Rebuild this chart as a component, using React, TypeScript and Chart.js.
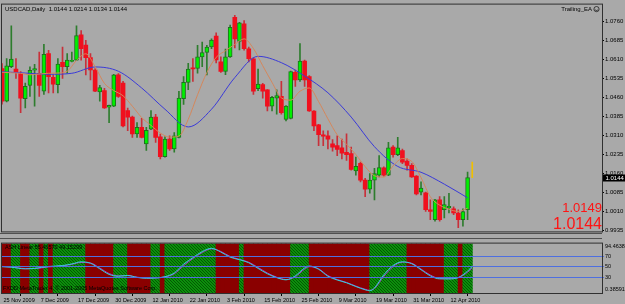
import { useEffect, useRef } from 'react';
import { Chart, registerables } from 'chart.js';

Chart.register(...registerables);

// ---------------- data ----------------
const symbolName = 'USDCAD,Daily';
const headerQuote = ['1.0144', '1.0214', '1.0134', '1.0144'];
const expertName = 'Trailing_EA';

const dateTickLabels = [
  '25 Nov 2009', '7 Dec 2009', '17 Dec 2009', '30 Dec 2009', '12 Jan 2010', '22 Jan 2010',
  '3 Feb 2010', '15 Feb 2010', '25 Feb 2010', '9 Mar 2010', '19 Mar 2010', '31 Mar 2010', '12 Apr 2010',
];
const barsPerDateTick = 8;

const openPrices = [
  1.0575, 1.0446, 1.0582, 1.0573, 1.0556, 1.0456, 1.0508, 1.0568, 1.0556, 1.0485,
  1.0634, 1.0540, 1.0511, 1.0599, 1.0582, 1.0603, 1.0608, 1.0708, 1.0667, 1.0618,
  1.0569, 1.0482, 1.0488, 1.0422, 1.0426, 1.0550, 1.0517, 1.0409, 1.0383, 1.0316,
  1.0342, 1.0277, 1.0335, 1.0383, 1.0305, 1.0227, 1.0296, 1.0257, 1.0303, 1.0456,
  1.0520, 1.0578, 1.0575, 1.0621, 1.0638, 1.0660, 1.0703, 1.0601, 1.0563, 1.0621,
  1.0777, 1.0682, 1.0751, 1.0653, 1.0613, 1.0495, 1.0511, 1.0491, 1.0426, 1.0458,
  1.0465, 1.0374, 1.0378, 1.0560, 1.0530, 1.0604, 1.0543, 1.0407, 1.0352, 1.0313,
  1.0309, 1.0277, 1.0270, 1.0261, 1.0244, 1.0239, 1.0170, 1.0200, 1.0134, 1.0098,
  1.0134, 1.0153, 1.0182, 1.0153, 1.0264, 1.0234, 1.0251, 1.0209, 1.0192, 1.0150,
  1.0086, 1.0084, 1.0017, 0.9978, 1.0056, 1.0017, 1.0024, 1.0020, 1.0004, 0.9978,
  1.0017,
];
const highPrices = [
  1.0594, 1.0614, 1.0744, 1.0614, 1.0563, 1.0517, 1.0582, 1.0591, 1.0640, 1.0670,
  1.0647, 1.0550, 1.0614, 1.0660, 1.0634, 1.0640, 1.0744, 1.0725, 1.0686, 1.0634,
  1.0575, 1.0508, 1.0497, 1.0430, 1.0552, 1.0555, 1.0524, 1.0419, 1.0387, 1.0361,
  1.0378, 1.0342, 1.0409, 1.0394, 1.0316, 1.0305, 1.0309, 1.0322, 1.0485, 1.0543,
  1.0595, 1.0614, 1.0666, 1.0679, 1.0666, 1.0692, 1.0716, 1.0621, 1.0652, 1.0746,
  1.0785, 1.0757, 1.0764, 1.0660, 1.0617, 1.0573, 1.0516, 1.0492, 1.0465, 1.0491,
  1.0524, 1.0428, 1.0565, 1.0569, 1.0673, 1.0608, 1.0547, 1.0409, 1.0354, 1.0329,
  1.0329, 1.0294, 1.0309, 1.0296, 1.0317, 1.0264, 1.0225, 1.0205, 1.0141, 1.0160,
  1.0180, 1.0231, 1.0186, 1.0283, 1.0270, 1.0303, 1.0257, 1.0218, 1.0199, 1.0152,
  1.0127, 1.0087, 1.0056, 1.0058, 1.0069, 1.0069, 1.0082, 1.0028, 1.0017, 1.0020,
  1.0166,
];
const lowPrices = [
  1.0434, 1.0443, 1.0578, 1.0536, 1.0400, 1.0419, 1.0465, 1.0426, 1.0465, 1.0473,
  1.0478, 1.0478, 1.0478, 1.0536, 1.0556, 1.0601, 1.0606, 1.0608, 1.0550, 1.0530,
  1.0483, 1.0446, 1.0417, 1.0361, 1.0424, 1.0461, 1.0344, 1.0329, 1.0303, 1.0303,
  1.0301, 1.0251, 1.0333, 1.0283, 1.0218, 1.0225, 1.0251, 1.0244, 1.0301, 1.0433,
  1.0491, 1.0524, 1.0556, 1.0582, 1.0550, 1.0653, 1.0597, 1.0559, 1.0551, 1.0619,
  1.0656, 1.0648, 1.0647, 1.0601, 1.0473, 1.0487, 1.0458, 1.0407, 1.0407, 1.0394,
  1.0394, 1.0368, 1.0376, 1.0504, 1.0524, 1.0504, 1.0405, 1.0329, 1.0270, 1.0270,
  1.0257, 1.0248, 1.0231, 1.0218, 1.0212, 1.0173, 1.0153, 1.0127, 1.0069, 1.0082,
  1.0056, 1.0147, 1.0150, 1.0151, 1.0225, 1.0231, 1.0199, 1.0173, 1.0145, 1.0075,
  1.0075, 1.0010, 0.9978, 0.9972, 0.9972, 0.9985, 1.0004, 0.9997, 0.9946, 0.9952,
  0.9978,
];
const closePrices = [
  1.0446, 1.0585, 1.0612, 1.0560, 1.0458, 1.0504, 1.0568, 1.0575, 1.0508, 1.0631,
  1.0543, 1.0513, 1.0592, 1.0582, 1.0608, 1.0607, 1.0705, 1.0653, 1.0618, 1.0569,
  1.0485, 1.0500, 1.0419, 1.0429, 1.0550, 1.0465, 1.0348, 1.0383, 1.0316, 1.0342,
  1.0303, 1.0331, 1.0383, 1.0303, 1.0227, 1.0296, 1.0257, 1.0309, 1.0458, 1.0520,
  1.0573, 1.0573, 1.0621, 1.0638, 1.0660, 1.0687, 1.0609, 1.0563, 1.0621, 1.0738,
  1.0692, 1.0755, 1.0653, 1.0614, 1.0485, 1.0513, 1.0485, 1.0426, 1.0461, 1.0468,
  1.0400, 1.0426, 1.0563, 1.0530, 1.0604, 1.0530, 1.0407, 1.0348, 1.0313, 1.0308,
  1.0296, 1.0264, 1.0255, 1.0240, 1.0234, 1.0176, 1.0188, 1.0134, 1.0098, 1.0134,
  1.0160, 1.0183, 1.0153, 1.0261, 1.0234, 1.0261, 1.0205, 1.0192, 1.0147, 1.0079,
  1.0102, 1.0017, 1.0010, 1.0056, 0.9978, 1.0037, 1.0030, 1.0004, 0.9978, 1.0010,
  1.0144,
];

const slowMaBars = [0, 5, 10, 15, 20, 25, 30, 35, 40, 45, 50, 55, 60, 65, 70, 75, 80, 85, 90, 95, 100];
const slowMaValues = [
  1.0562, 1.0557, 1.0552, 1.0556, 1.0581, 1.0564, 1.0498, 1.0414, 1.0344, 1.0414, 1.0539,
  1.0623, 1.0598, 1.0545, 1.0479, 1.0383, 1.0266, 1.0188, 1.0165, 1.0118, 1.0064,
];
const fastMaBars = [
  0, 2, 4, 6, 8, 10, 12, 14, 16, 18, 20, 22, 24, 26, 28, 30, 32, 34, 36, 38, 40, 42, 44, 46, 48,
  50, 52, 54, 56, 58, 60, 62, 64, 66, 68, 70, 72, 74, 76, 78, 80, 82, 84, 86, 88, 90, 92, 94, 96, 98, 100,
];
const fastMaValues = [
  1.0560, 1.0558, 1.0556, 1.0550, 1.0553, 1.0556, 1.0557, 1.0564, 1.0607, 1.0633, 1.0582, 1.0516, 1.0488,
  1.0467, 1.0426, 1.0381, 1.0350, 1.0320, 1.0304, 1.0308, 1.0374, 1.0471, 1.0559, 1.0619, 1.0645,
  1.0670, 1.0692, 1.0654, 1.0586, 1.0520, 1.0459, 1.0450, 1.0485, 1.0498, 1.0444, 1.0376, 1.0313,
  1.0276, 1.0235, 1.0187, 1.0151, 1.0146, 1.0190, 1.0219, 1.0208, 1.0144, 1.0068, 1.0035, 1.0019,
  1.0010, 1.0023,
];

const priceTickValues = [1.076, 1.0685, 1.061, 1.0535, 1.046, 1.0385, 1.031, 1.0235, 1.016, 1.0085, 1.001, 0.9935];
const lastPrice = 1.0144;
const bidText = '1.0149';
const askText = '1.0144';
const trailBar = 101;
const trailRange = [1.0144, 1.0205];

// 1 = green zone, 0 = red zone (one entry per bar)
const bandSignal = [
  0, 0, 1, 1, 0, 0, 1, 1, 0, 1, 0, 1, 1, 1, 1, 1, 1, 1, 0, 0,
  0, 0, 0, 0, 1, 1, 1, 0, 0, 0, 0, 0, 1, 1, 0, 1, 1, 1, 1, 1,
  1, 1, 1, 1, 1, 1, 0, 0, 0, 0, 0, 1, 0, 0, 0, 0, 0, 0, 0, 0,
  0, 0, 1, 1, 1, 1, 0, 0, 0, 0, 0, 0, 0, 0, 0, 0, 0, 0, 0, 1,
  1, 1, 1, 1, 1, 1, 1, 0, 0, 0, 0, 0, 0, 0, 0, 1, 1, 1, 0, 1,
  1,
];
const indicatorBars = [
  0, 2, 5, 7, 10, 13, 15, 17, 19, 21, 23, 25, 27, 29, 31, 33, 35, 37, 39, 41, 43, 45, 47, 49, 51, 53,
  55, 57, 59, 61, 63, 65, 66, 68, 70, 72, 74, 76, 78, 79, 80, 82, 84, 86, 88, 90, 92, 94, 96, 98, 100, 101,
];
const indicatorMain = [
  50.5, 49.5, 46.3, 47.3, 50.9, 52.7, 55.7, 59.8, 57.1, 46.5, 35.8, 32.3, 33.8, 30.1, 28.5, 29.1,
  31.4, 38.5, 55.3, 67.7, 79.3, 85.5, 78.4, 68.6, 63.8, 58.0, 47.3, 37.0, 29.6, 25.5, 33.1, 48.2,
  51.8, 45.6, 32.3, 25.2, 19.8, 12.7, 6.5, 4.7, 10.0, 34.9, 52.7, 59.8, 56.2, 44.7, 33.1, 27.3,
  27.3, 29.9, 42.0, 50.9,
];
const indicatorSignal = [
  51.0, 50.0, 47.0, 47.0, 50.0, 52.0, 55.0, 58.5, 57.5, 48.0, 37.5, 33.0, 33.5, 30.5, 29.0, 29.0,
  31.0, 37.0, 52.5, 66.0, 77.5, 84.5, 79.5, 70.0, 64.5, 59.0, 49.0, 38.5, 30.5, 26.0, 31.5, 46.0,
  50.5, 46.5, 33.5, 26.0, 20.5, 13.5, 7.5, 5.5, 9.0, 32.0, 50.5, 59.0, 57.0, 46.0, 34.5, 28.0,
  27.5, 29.5, 40.0, 48.0,
];
const indicatorLevels = [70, 50, 30];
const indicatorMax = 94.4638;
const indicatorMin = 0.38591;
const indicatorTitle = 'ASH Linear 55.46570 49.15299';
const copyrightText = 'FXDD MetaTrader 4, \u00A9 2001-2005 MetaQuotes Software Corp.';

// ---------------- view / style ----------------
const PRICE_MAX = 1.08274;
const PRICE_MIN = 0.99313;
const X_MAX = 128.87;
const FONT = '"Liberation Sans", Arial, sans-serif';
const BG = '#A9A9A9';
const FRAME = '#303030';
const BULL_BODY = '#00F000';
const BULL_EDGE = '#1F6F1F';
const BEAR_BODY = '#F0101E';
const BULL_WICK = '#2E7D2E';
const BEAR_WICK = '#C8303A';
const SLOW_MA = '#3A3AD8';
const FAST_MA = '#D4875C';
const BAND_RED = '#8A0000';
const LEVEL = '#4E6FE0';

function makeHatch(ctx: CanvasRenderingContext2D): CanvasPattern | string {
  const c = document.createElement('canvas');
  c.width = 3;
  c.height = 3;
  const g = c.getContext('2d');
  if (!g) return '#0A8A0A';
  g.fillStyle = '#0C900C';
  g.fillRect(0, 0, 3, 3);
  g.fillStyle = '#035803';
  g.fillRect(0, 0, 1, 1);
  g.fillRect(1, 1, 1, 1);
  g.fillRect(2, 2, 1, 1);
  return ctx.createPattern(c, 'repeat') || '#0A8A0A';
}

const frameOf = (ctx: CanvasRenderingContext2D, a: any) => {
  ctx.strokeStyle = FRAME;
  ctx.lineWidth = 1;
  ctx.strokeRect(a.left - 0.5, a.top - 0.5, a.right - a.left + 1, a.bottom - a.top + 1);
};

export default function App() {
  const topRef = useRef<HTMLCanvasElement>(null);
  const botRef = useRef<HTMLCanvasElement>(null);

  useEffect(() => {
    const charts: Chart[] = [];
    const bars = openPrices.map((_, i) => i);
    const up = bars.map((i) => closePrices[i] >= openPrices[i]);

    if (topRef.current) {
      const decorTop = {
        id: 'decorTop',
        afterDraw(chart: any) {
          const { ctx, chartArea: a, scales } = chart;
          ctx.save();
          frameOf(ctx, a);
          ctx.fillStyle = '#000';
          ctx.textBaseline = 'middle';
          ctx.textAlign = 'left';
          ctx.font = `6px ${FONT}`;
          ctx.fillText(`${symbolName}  ${headerQuote.join(' ')}`, a.left + 3, a.top + 4.5);
          ctx.textAlign = 'right';
          ctx.fillText(expertName, a.right - 10, a.top + 4.5);
          // smiley icon
          const cx = a.right - 5.5;
          const cy = a.top + 4.5;
          ctx.strokeStyle = '#202020';
          ctx.lineWidth = 0.8;
          ctx.beginPath();
          ctx.arc(cx, cy, 2.6, 0, Math.PI * 2);
          ctx.stroke();
          ctx.beginPath();
          ctx.arc(cx, cy + 0.2, 1.3, 0.2, Math.PI - 0.2);
          ctx.stroke();
          // big bid / ask text
          ctx.fillStyle = '#FF1414';
          ctx.textBaseline = 'alphabetic';
          ctx.font = `13px ${FONT}`;
          ctx.fillText(bidText, a.right, 211.7);
          ctx.font = `16px ${FONT}`;
          ctx.fillText(askText, a.right, 228.5);
          // current price label on the axis
          const y = scales.y.getPixelForValue(lastPrice);
          ctx.fillStyle = '#000';
          ctx.fillRect(a.right + 1, Math.round(y) - 3.5, chart.width - a.right - 1, 7);
          ctx.fillStyle = '#FFF';
          ctx.textAlign = 'left';
          ctx.textBaseline = 'middle';
          ctx.font = `6px ${FONT}`;
          ctx.fillText(lastPrice.toFixed(4), a.right + 3.5, Math.round(y));
          ctx.restore();
        },
      };

      charts.push(
        new Chart(topRef.current, {
          type: 'bar',
          data: {
            datasets: [
              {
                type: 'bar',
                data: bars.map((i) => ({ x: i, y: [lowPrices[i], highPrices[i]] })) as any,
                backgroundColor: up.map((u) => (u ? BULL_WICK : BEAR_WICK)),
                barThickness: 1,
                grouped: false,
                clip: 0,
                order: 5,
              } as any,
              {
                type: 'bar',
                data: bars.map((i) => ({ x: i, y: [openPrices[i], closePrices[i]] })) as any,
                backgroundColor: up.map((u) => (u ? BULL_BODY : BEAR_BODY)),
                borderColor: up.map((u) => (u ? BULL_EDGE : BEAR_BODY)),
                borderWidth: up.map((u) => (u ? 1 : 0)),
                borderSkipped: false,
                barThickness: up.map((u) => (u ? 4 : 3)),
                minBarLength: 1,
                grouped: false,
                clip: 0,
                order: 4,
              } as any,
              {
                type: 'line',
                data: slowMaBars.map((b, k) => ({ x: b, y: slowMaValues[k] })),
                borderColor: SLOW_MA,
                borderWidth: 1,
                pointRadius: 0,
                cubicInterpolationMode: 'monotone',
                clip: 0,
                order: 2,
              } as any,
              {
                type: 'line',
                data: fastMaBars.map((b, k) => ({ x: b, y: fastMaValues[k] })),
                borderColor: FAST_MA,
                borderWidth: 1,
                pointRadius: 0,
                cubicInterpolationMode: 'monotone',
                clip: 0,
                order: 1,
              } as any,
              {
                type: 'bar',
                data: [{ x: trailBar, y: trailRange }] as any,
                backgroundColor: '#F0C000',
                barThickness: 1,
                grouped: false,
                clip: 0,
                order: 0,
              } as any,
            ],
          },
          options: {
            responsive: false,
            animation: false,
            devicePixelRatio: 1,
            events: [],
            layout: { padding: { left: 2, top: 2, right: 0, bottom: 4 } },
            plugins: { legend: { display: false }, tooltip: { enabled: false } },
            scales: {
              x: { type: 'linear', min: 0, max: X_MAX, offset: false, display: false },
              y: {
                type: 'linear',
                position: 'right',
                min: PRICE_MIN,
                max: PRICE_MAX,
                afterFit: (s: any) => {
                  s.width = 23;
                },
                afterBuildTicks: (s: any) => {
                  s.ticks = priceTickValues.map((v) => ({ value: v }));
                },
                ticks: {
                  callback: (v: any) => Number(v).toFixed(4),
                  font: { family: FONT, size: 6 },
                  color: '#000',
                  padding: 1,
                  autoSkip: false,
                },
                grid: { drawOnChartArea: false, drawTicks: true, tickLength: 2, color: '#000' },
                border: { display: false },
              },
            },
          } as any,
          plugins: [decorTop],
        })
      );
    }

    if (botRef.current) {
      const ctx2 = botRef.current.getContext('2d') as CanvasRenderingContext2D;
      const hatch = makeHatch(ctx2);
      const decorBot = {
        id: 'decorBot',
        afterDraw(chart: any) {
          const { ctx, chartArea: a } = chart;
          ctx.save();
          frameOf(ctx, a);
          ctx.fillStyle = '#000';
          ctx.textAlign = 'left';
          ctx.textBaseline = 'middle';
          ctx.font = `5.5px ${FONT}`;
          ctx.fillText(indicatorTitle, a.left + 3, a.top + 4);
          ctx.fillText(copyrightText, a.left + 1, a.bottom - 5);
          ctx.restore();
        },
      };
      const isLevel = (c: any) => c.tick && indicatorLevels.includes(c.tick.value);

      charts.push(
        new Chart(botRef.current, {
          type: 'bar',
          data: {
            datasets: [
              {
                type: 'bar',
                data: bars.map((i) => ({ x: i + 0.5, y: [indicatorMin, indicatorMax] })) as any,
                backgroundColor: bars.map((i) => (bandSignal[i] ? hatch : BAND_RED)),
                barThickness: 5,
                grouped: false,
                clip: 0,
                order: 3,
              } as any,
              {
                type: 'line',
                data: indicatorBars.map((b, k) => ({ x: b, y: indicatorSignal[k] })),
                borderColor: '#B030C8',
                borderWidth: 1,
                pointRadius: 0,
                cubicInterpolationMode: 'monotone',
                clip: 0,
                order: 2,
              } as any,
              {
                type: 'line',
                data: indicatorBars.map((b, k) => ({ x: b, y: indicatorMain[k] })),
                borderColor: '#30D8D8',
                borderWidth: 1,
                pointRadius: 0,
                cubicInterpolationMode: 'monotone',
                clip: 0,
                order: 1,
              } as any,
            ],
          },
          options: {
            responsive: false,
            animation: false,
            devicePixelRatio: 1,
            events: [],
            layout: { padding: { left: 2, top: 5, right: 0, bottom: 0 } },
            plugins: { legend: { display: false }, tooltip: { enabled: false } },
            scales: {
              x: {
                type: 'linear',
                min: 0,
                max: X_MAX,
                offset: false,
                afterFit: (s: any) => {
                  s.height = 11;
                },
                afterBuildTicks: (s: any) => {
                  s.ticks = dateTickLabels.map((_, k) => ({ value: k * barsPerDateTick }));
                },
                ticks: {
                  callback: (v: any) => dateTickLabels[Math.round(Number(v) / barsPerDateTick)] ?? '',
                  align: 'start',
                  labelOffset: 1.5,
                  maxRotation: 0,
                  autoSkip: false,
                  padding: 1,
                  font: { family: FONT, size: 5.5 },
                  color: '#000',
                },
                grid: { drawOnChartArea: false, drawTicks: true, tickLength: 3, color: '#000' },
                border: { display: false },
              },
              y: {
                type: 'linear',
                position: 'right',
                min: indicatorMin,
                max: indicatorMax,
                afterFit: (s: any) => {
                  s.width = 23;
                },
                afterBuildTicks: (s: any) => {
                  s.ticks = [indicatorMax, ...indicatorLevels, indicatorMin].map((v) => ({ value: v }));
                },
                ticks: {
                  callback: (v: any) => {
                    if (v === indicatorMax) return ['', String(indicatorMax)];
                    if (v === indicatorMin) return [String(indicatorMin), ''];
                    return String(v);
                  },
                  font: { family: FONT, size: 5.5 },
                  color: '#000',
                  padding: 1,
                  autoSkip: false,
                },
                grid: {
                  drawOnChartArea: true,
                  drawTicks: true,
                  tickLength: 2,
                  z: 1,
                  color: (c: any) => (isLevel(c) ? LEVEL : 'rgba(0,0,0,0)'),
                  tickColor: (c: any) => (isLevel(c) ? LEVEL : 'rgba(0,0,0,0)'),
                },
                border: { display: false },
              },
            },
          } as any,
          plugins: [decorBot],
        })
      );
    }

    return () => charts.forEach((c) => c.destroy());
  }, []);

  return (
    <div
      style={{
        position: 'absolute',
        left: 0,
        top: 0,
        width: 625,
        height: 304,
        background: BG,
        overflow: 'hidden',
      }}
    >
      <div style={{ position: 'absolute', left: 0, top: 233, width: 602, height: 1, background: '#505050' }} />
      <div style={{ position: 'absolute', left: 0, top: 238, width: 602, height: 1, background: '#505050' }} />
      <canvas
        ref={topRef}
        width={625}
        height={236}
        style={{ position: 'absolute', left: 0, top: 0, width: 625, height: 236 }}
      />
      <canvas
        ref={botRef}
        width={625}
        height={68}
        style={{ position: 'absolute', left: 0, top: 236, width: 625, height: 68 }}
      />
    </div>
  );
}
